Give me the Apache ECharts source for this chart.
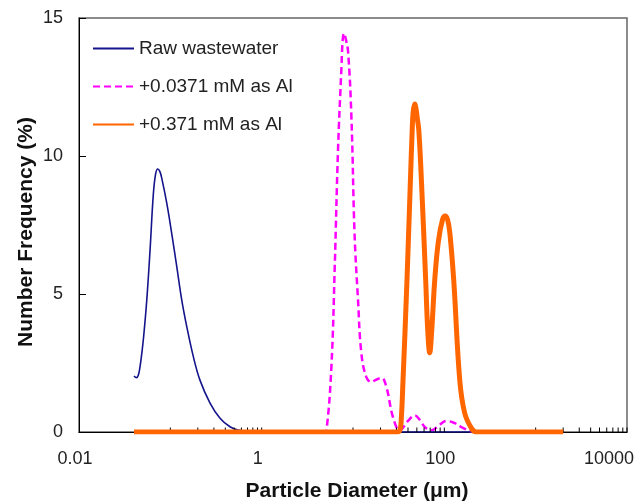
<!DOCTYPE html>
<html>
<head>
<meta charset="utf-8">
<script src="https://cdn.jsdelivr.net/npm/echarts@6/dist/echarts.min.js"></script>
<style>html,body{margin:0;padding:0;background:#fff}#c{width:638px;height:502px}</style>
</head>
<body>
<div id="c"></div>
<script>
// ---- Data ----
const seriesNames = ['Raw wastewater', '+0.0371 mM as Al', '+0.371 mM as Al'];

// Raw wastewater: particle diameter (µm) / number frequency (%)
const rawD = [0.040, 0.0425, 0.0445, 0.0465, 0.0485, 0.0510, 0.0552, 0.060, 0.0651, 0.0690, 0.0728, 0.0765, 0.0805, 0.0914, 0.1035, 0.1175, 0.1334, 0.1513, 0.1786, 0.211, 0.272, 0.35, 0.45, 0.556, 0.70, 0.90, 2000];
const rawF = [2.03, 1.97, 2.05, 2.35, 2.80, 3.45, 4.78, 6.6, 8.6, 9.35, 9.53, 9.45, 9.2, 8.29, 7.2, 6.0, 4.78, 3.82, 2.73, 1.88, 1.05, 0.5, 0.19, 0.07, 0.02, 0, 0];

// +0.0371 mM as Al
const lowD = [0.04, 4.8, 5.12, 5.8, 6.31, 6.85, 7.47, 7.71, 7.97, 8.28, 8.82, 9.61, 10.4, 11.35, 12.36, 14.0, 15.9, 18.0, 20.5, 23.2, 27.4, 32.5, 40.0, 47.4, 55.0, 61.0, 72.2, 88.0, 105.4, 130.0, 160.0, 215.0, 2000];
const lowF = [0, 0, 0.05, 2.36, 5.98, 10.2, 13.2, 14.2, 14.45, 14.28, 13.8, 11.4, 7.19, 4.78, 2.84, 1.99, 1.81, 1.9, 1.96, 1.63, 0.54, 0.06, 0.4, 0.6, 0.4, 0.18, 0.06, 0.25, 0.40, 0.32, 0.15, 0, 0];

// +0.371 mM as Al
const highD = [0.04, 30.0, 32.5, 33.7, 35.3, 39.0, 42.5, 44.5, 45.6, 47.4, 49.2, 50.5, 52.5, 56.1, 62.5, 65.8, 69.2, 72.8, 78.5, 86.0, 96.0, 102.3, 108.9, 115.0, 126.7, 147.5, 167.2, 199.5, 224, 2000];
const highF = [0, 0, 0.05, 0.42, 1.88, 5.5, 9.1, 10.95, 11.6, 11.88, 11.67, 11.38, 10.95, 9.13, 5.5, 3.69, 2.87, 3.69, 5.5, 6.9, 7.72, 7.83, 7.68, 7.2, 5.5, 1.88, 0.68, 0.12, 0, 0];

// Axis tick labels and the small tick marks along the x axis
const xTickLabels = [0.01, 1, 100, 10000];
const yTickLabels = [0, 5, 10, 15];
const xMinorTicks = [0.1, 0.2, 0.3, 0.4, 0.5, 0.6, 0.7, 0.8, 0.9, 1,
                     10, 20, 30, 40, 50, 60, 70, 80, 90, 100,
                     1000, 2000, 3000, 4000, 5000, 6000, 7000, 8000, 9000, 10000];

// ---- Build ----
const pairs = (xs, ys) => xs.map((x, i) => [x, ys[i]]);
const FONT = "'Liberation Sans', Arial, sans-serif";
const xMax = xTickLabels[xTickLabels.length - 1];

const chart = echarts.init(document.getElementById('c'), null, {renderer: 'canvas'});
chart.setOption({
  backgroundColor: '#fff',
  animation: false,
  grid: {left: 79, right: 11, top: 18, bottom: 70, show: true, borderColor: '#666', borderWidth: 1.5,
         containLabel: false, outerBoundsMode: 'none'},
  legend: {
    orient: 'vertical', left: 92, top: 38, padding: 0,
    itemWidth: 41, itemHeight: 14, itemGap: 17,
    data: seriesNames,
    itemStyle: {opacity: 0, borderWidth: 0},
    textStyle: {fontFamily: FONT, fontSize: 19, color: '#222', lineHeight: 21}
  },
  xAxis: {
    type: 'log', logBase: 10, min: xTickLabels[0], max: xMax, interval: 2,
    name: 'Particle Diameter (μm)', nameLocation: 'middle', nameGap: 49,
    nameTextStyle: {fontFamily: FONT, fontSize: 21, fontWeight: 'bold', color: '#111', padding: [0, 0, 0, 8]},
    axisLine: {lineStyle: {color: '#000', width: 1}},
    axisTick: {show: false},
    splitLine: {show: false},
    axisLabel: {
      fontFamily: FONT, fontSize: 18, color: '#222', margin: 18,
      alignMaxLabel: 'right',
      formatter: v => {
        const s = String(Number(v.toPrecision(3)));
        return Math.abs(v - xMax) < 1e-6 ? '{m|' + s + '}' : '{n|' + s + '}';
      },
      rich: {
        n: {fontFamily: FONT, fontSize: 18, color: '#222', padding: [0, 8, 0, 0]},
        m: {fontFamily: FONT, fontSize: 18, color: '#222', width: 43, align: 'left'}
      }
    }
  },
  yAxis: {
    type: 'value', min: yTickLabels[0], max: yTickLabels[yTickLabels.length - 1], interval: 5,
    name: 'Number Frequency (%)', nameLocation: 'middle', nameGap: 42, nameMoveOverlap: false,
    nameTextStyle: {fontFamily: FONT, fontSize: 21, fontWeight: 'bold', color: '#111', padding: [0, 14, 0, 0]},
    axisLine: {show: true, lineStyle: {color: '#000', width: 1}},
    axisTick: {show: true, inside: true, length: 7, lineStyle: {color: '#000'}},
    splitLine: {show: false},
    axisLabel: {fontFamily: FONT, fontSize: 18, color: '#222', margin: 16}
  },
  series: [
    {
      name: seriesNames[1], type: 'line', data: pairs(lowD, lowF), showSymbol: false, symbol: 'none',
      smooth: 0.4, z: 2,
      lineStyle: {color: '#FF00FF', width: 2.5, type: [7, 4]}, itemStyle: {color: '#FF00FF'}
    },
    {
      name: seriesNames[0], type: 'line', data: pairs(rawD, rawF), showSymbol: false, symbol: 'none',
      smooth: 0.4, z: 3,
      lineStyle: {color: '#14148C', width: 1.6}, itemStyle: {color: '#14148C'}
    },
    {
      type: 'custom', z: 4, silent: true,
      data: xMinorTicks.map(v => [v, 0]),
      renderItem: (params, api) => {
        const p = api.coord([api.value(0), 0]);
        return {type: 'line', shape: {x1: p[0], y1: p[1], x2: p[0], y2: p[1] - 4.5},
                style: {stroke: '#000', lineWidth: 1}};
      }
    },
    {
      name: seriesNames[2], type: 'line', data: pairs(highD, highF), showSymbol: false, symbol: 'none',
      smooth: 0.4, z: 5,
      lineStyle: {color: '#FF6600', width: 5}, itemStyle: {color: '#FF6600'}
    }
  ]
});
</script>
</body>
</html>
